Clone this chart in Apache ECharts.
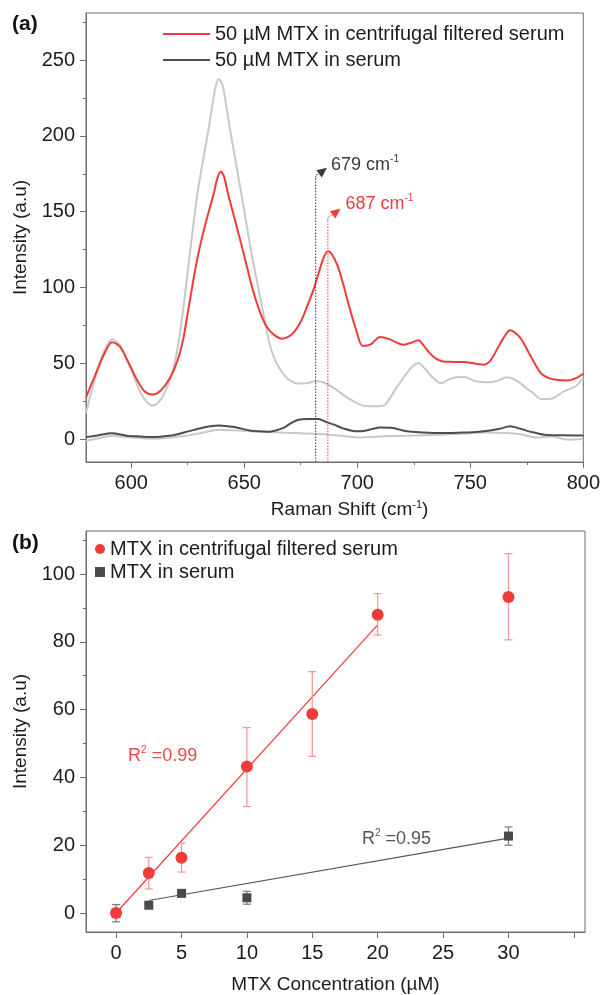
<!DOCTYPE html>
<html><head><meta charset="utf-8">
<script src="https://cdn.jsdelivr.net/npm/echarts@6/dist/echarts.min.js"></script>
<style>html,body{margin:0;padding:0;background:#fff}#c{width:603px;height:995px}</style>
</head><body><div id="c"></div><script>
// ---------- Panel (a): Raman spectra ----------
const redShift = [580, 584, 588, 591.5, 595, 599, 603, 606, 609.5, 613, 617, 620.5, 623, 625.2, 629.1, 632.5, 636.5, 638.2, 639.6, 641.1, 642.8, 646.7, 650.5, 653.5, 656.7, 660, 663.5, 666.8, 670, 672.7, 675.5, 677.8, 680.5, 682.9, 685.2, 687, 688.8, 691.4, 694, 696.4, 699.5, 702.4, 706, 710, 714.2, 717, 720.2, 723.5, 727, 729.5, 732, 735, 738, 742, 747.3, 752, 755.8, 759, 762.5, 765, 767.6, 770, 772.7, 777, 781.2, 784.5, 788, 793, 797, 800];
const redInt = [27.6, 42, 56, 64, 61, 50, 38, 31.5, 29.5, 32, 40, 52, 66, 85, 118, 140, 162, 172.5, 176.5, 173, 162, 140, 118, 100, 85, 74, 68.5, 66.3, 68, 72, 79, 87.6, 98, 109.6, 120, 124, 122, 114, 101, 87.6, 72, 61.5, 62.5, 67.4, 66, 64, 62.3, 63.5, 65.2, 61.5, 56.8, 53, 51.3, 51, 50.9, 50, 49.1, 52, 61.2, 67.5, 71.8, 70, 65.6, 54, 43.6, 40.5, 39.2, 38.8, 40.5, 43.2];

const grayUpShift = [580, 584, 588, 591.5, 595, 598, 601, 604, 607, 609.5, 613, 616, 618.5, 620.5, 622.7, 625.6, 629.3, 634.4, 637, 638.7, 640.5, 643.5, 648.7, 653.8, 658.2, 661, 664, 667.6, 670.5, 673.6, 678, 681.2, 684.6, 689.7, 694.7, 700.7, 705, 711.7, 714, 716.8, 719.5, 721.9, 724.5, 727, 730.3, 733.5, 737.1, 740.5, 743.9, 747.3, 752.4, 757.5, 762, 766, 771, 774.5, 777.8, 781.2, 786.3, 791.4, 796.4, 800];
const grayUpInt = [17.3, 40, 58, 66, 62, 52.4, 42, 31, 24.5, 22.3, 26, 35, 45.8, 60, 82, 118, 162, 206, 230, 237.5, 233, 206, 162, 118, 85, 64, 51, 42.5, 38.5, 36.8, 37, 38.2, 37.7, 33.7, 28.3, 23.2, 21.7, 22.3, 26, 32.7, 38.5, 43.6, 48, 50.2, 45.8, 40.5, 37, 39.5, 40.8, 41, 38.2, 37.5, 38.5, 40.8, 38.2, 34, 30.5, 26.5, 26.9, 31.6, 34.8, 40.3];

const serumShift = [580, 585, 591.4, 598, 604, 610, 616.8, 621, 625.3, 632, 638.8, 645.6, 652.4, 656, 660.8, 664, 667.6, 670.5, 674, 677.8, 682.9, 686, 689.7, 694, 699.8, 704, 710, 715.1, 721.9, 729, 737.1, 745, 754, 762.5, 767.6, 772, 776, 782.9, 790, 800];
const serumInt = [1.4, 2.5, 4, 2.3, 1.8, 1.4, 2.3, 3.5, 5.2, 7.8, 9.1, 8, 5.8, 5.2, 4.9, 5.8, 7.6, 10.5, 12.8, 13.3, 13.3, 11.5, 9.6, 7, 5.2, 5.8, 7.8, 7.6, 5.2, 4.5, 4.1, 4.3, 4.9, 6.7, 8.5, 7, 5.2, 3, 2.6, 2.5];

const grayLowShift = [580, 585, 591.4, 598, 610, 625, 632, 638.8, 649, 660.8, 671, 681.2, 691.4, 701.5, 711.7, 721.9, 737.1, 750, 755.8, 763, 771, 779.5, 786, 793, 800];
const grayLowInt = [-1, 0.5, 2.3, 1.5, 0.3, 2.5, 4.5, 6.3, 5.6, 4.7, 4.1, 3.6, 2.5, 1.2, 1.9, 2.3, 3, 4, 4.5, 4.2, 3.6, 1.2, 1.9, -0.3, 0.3];

const topXTicks = [600, 650, 700, 750, 800];
const topXMinor = [625, 675, 725, 775];
const topYTicks = [0, 50, 100, 150, 200, 250];
const topYMinor = [25, 75, 125, 175, 225, 275];

// peak annotations
const annotLabels = ['679', '687'];
const annotShift = [681.6, 687];
const annotLineTop = [172.5, 144.8];
const annotTipShift = [686.6, 692.6];
const annotTipInt = [179, 152];
const annotLabelShift = [688.4, 694.8];
const annotLabelInt = [180.5, 155];

// ---------- Panel (b): calibration ----------
const concFiltered = [0, 2.5, 5, 10, 15, 20, 30];
const meanFiltered = [0, 11.8, 16.3, 43.2, 58.7, 88, 93.2];
const lowFiltered  = [0, 7.1, 12.1, 31.4, 46.2, 82, 80.6];
const highFiltered = [0, 16.4, 20.6, 54.7, 71.2, 94.2, 106];

const concSerum = [0, 2.5, 5, 10, 30];
const meanSerum = [0, 2.3, 5.8, 4.5, 22.7];
const lowSerum  = [-2.6, 2.3, 5.8, 2.6, 20];
const highSerum = [2.5, 2.3, 5.8, 6.4, 25.4];

const fitFilteredX = [0, 20];
const fitFilteredY = [0, 85];
const fitSerumX = [2.5, 30];
const fitSerumY = [3.7, 22.1];

const r2Labels = ['0.99', '0.95'];
const r2X = [0.92, 18.8];
const r2Y = [46.3, 21.9];

const botXTicks = [0, 5, 10, 15, 20, 25, 30, 35];
const botXLabels = [0, 5, 10, 15, 20, 25, 30];
const botYTicks = [0, 20, 40, 60, 80, 100];
const botYMinor = [10, 30, 50, 70, 90, 110];

// ---------- styles ----------
const FONT = 'Liberation Sans, Arial, sans-serif';
const AX = '#6e6e6e';
const TXT = '#1c1c1c';
const RED = '#f03b3b';
const RED_TXT = '#f04646';
const RED_ERR = '#f39393';
const DARK = '#4e4e4e';
const LIGHT = '#c8c8c8';

const zip = (a, b) => a.map((v, i) => [v, b[i]]);

function mainAxis(gi, min, max, ticks, labels, extra) {
  return Object.assign({
    type: 'value', gridIndex: gi, min: min, max: max,
    axisLine: { show: true, onZero: false, lineStyle: { color: AX, width: 1 } },
    axisTick: { show: true, customValues: ticks, length: 6, lineStyle: { color: AX } },
    axisLabel: { customValues: labels, fontSize: 20, color: TXT, fontFamily: FONT, margin: 11 },
    splitLine: { show: false }
  }, extra);
}
function minorAxis(gi, min, max, ticks, pos) {
  return {
    type: 'value', gridIndex: gi, min: min, max: max, position: pos, offset: 0,
    axisLine: { show: false, onZero: false },
    axisTick: { show: true, customValues: ticks, length: 3, lineStyle: { color: AX } },
    axisLabel: { show: false },
    splitLine: { show: false }
  };
}
const nameRich = {
  n: { fontSize: 19, fontFamily: FONT, color: TXT, lineHeight: 22 },
  s: { fontSize: 11, fontFamily: FONT, color: TXT, verticalAlign: 'top' }
};

const TOP_YMIN = -15, TOP_YMAX = 281;

const option = {
  backgroundColor: '#ffffff',
  animation: false,
  title: [
    { text: '(a)', left: 12, top: 14, padding: 0, textStyle: { fontSize: 21, fontWeight: 'bold', color: '#111', fontFamily: FONT } },
    { text: '(b)', left: 12, top: 533, padding: 0, textStyle: { fontSize: 21, fontWeight: 'bold', color: '#111', fontFamily: FONT } }
  ],
  legend: [
    {
      orient: 'vertical', left: 163, top: 24, padding: 0, itemGap: 6,
      itemWidth: 47, itemHeight: 2, icon: 'rect',
      textStyle: { fontSize: 20, color: TXT, fontFamily: FONT },
      data: ['50 µM MTX in centrifugal filtered serum', '50 µM MTX in serum']
    },
    {
      orient: 'vertical', left: 95, top: 539, padding: 0, itemGap: 3,
      itemWidth: 10, itemHeight: 10,
      textStyle: { fontSize: 20, color: TXT, fontFamily: FONT },
      data: [{ name: 'MTX in centrifugal filtered serum', icon: 'circle' }, { name: 'MTX in serum', icon: 'rect' }]
    }
  ],
  grid: [
    { left: 86, top: 13, width: 499, height: 449, show: true, borderColor: AX, borderWidth: 1, backgroundColor: 'transparent' },
    { left: 86, top: 531, width: 499, height: 402, show: true, borderColor: AX, borderWidth: 1, backgroundColor: 'transparent' }
  ],
  xAxis: [
    mainAxis(0, 580, 800, topXTicks, topXTicks, {
      position: 'bottom', name: '{n|Raman Shift (cm}{s|-1}{n|)}', nameLocation: 'middle', nameGap: 37,
      nameTextStyle: { rich: nameRich, padding: [0, 0, 0, 30] }
    }),
    minorAxis(0, 580, 800, topXMinor, 'bottom'),
    mainAxis(1, -2.3, 35.85, botXTicks, botXLabels, {
      position: 'bottom', name: 'MTX Concentration (µM)', nameLocation: 'middle', nameGap: 43,
      nameTextStyle: { fontSize: 19, fontFamily: FONT, color: TXT }
    })
  ],
  yAxis: [
    mainAxis(0, TOP_YMIN, TOP_YMAX, topYTicks, topYTicks, {
      position: 'left', name: 'Intensity (a.u)', nameLocation: 'middle', nameGap: 53,
      nameTextStyle: { fontSize: 19, fontFamily: FONT, color: TXT }
    }),
    minorAxis(0, TOP_YMIN, TOP_YMAX, topYMinor, 'left'),
    mainAxis(1, -5.6, 112.7, botYTicks, botYTicks, {
      position: 'left', name: 'Intensity (a.u)', nameLocation: 'middle', nameGap: 53,
      nameTextStyle: { fontSize: 19, fontFamily: FONT, color: TXT }
    }),
    minorAxis(1, -5.6, 112.7, botYMinor, 'left')
  ],
  series: [
    { type: 'line', xAxisIndex: 0, yAxisIndex: 0, data: zip(grayUpShift, grayUpInt), showSymbol: false, symbol: 'none', smooth: 0.3, lineStyle: { color: LIGHT, width: 2 }, z: 1, silent: true },
    { type: 'line', xAxisIndex: 0, yAxisIndex: 0, data: zip(grayLowShift, grayLowInt), showSymbol: false, symbol: 'none', smooth: 0.3, lineStyle: { color: LIGHT, width: 2 }, z: 1, silent: true },
    { name: '50 µM MTX in serum', type: 'line', xAxisIndex: 0, yAxisIndex: 0, data: zip(serumShift, serumInt), symbol: 'none', smooth: 0.3, color: DARK, lineStyle: { color: DARK, width: 2 }, z: 2 },
    { name: '50 µM MTX in centrifugal filtered serum', type: 'line', xAxisIndex: 0, yAxisIndex: 0, data: zip(redShift, redInt), symbol: 'none', smooth: 0.3, color: RED, lineStyle: { color: RED, width: 2 }, z: 3 },
    {
      type: 'custom', xAxisIndex: 0, yAxisIndex: 0, silent: true, z: 5, clip: false,
      data: annotShift.map((s, i) => [s, annotLineTop[i], annotTipShift[i], annotTipInt[i], annotLabelShift[i], annotLabelInt[i]]),
      renderItem: function (params, api) {
        const i = params.dataIndex;
        const col = i === 0 ? '#3a3a3a' : RED;
        const base = api.coord([api.value(0), TOP_YMIN]);
        const top = api.coord([api.value(0), api.value(1)]);
        const tip = api.coord([api.value(2), api.value(3)]);
        const lab = api.coord([api.value(4), api.value(5)]);
        const ang = 38 * Math.PI / 180;
        const ux = Math.cos(ang), uy = -Math.sin(ang);
        const ah = 10, aw = 4.5;
        const bx = tip[0] - ux * ah, by = tip[1] - uy * ah;
        const p1 = [bx - uy * aw, by + ux * aw], p2 = [bx + uy * aw, by - ux * aw];
        return {
          type: 'group', children: [
            { type: 'line', shape: { x1: base[0], y1: base[1], x2: top[0], y2: top[1] }, style: { stroke: col, lineWidth: 1, lineDash: [1.5, 1.5] } },
            { type: 'bezierCurve', shape: { x1: top[0], y1: top[1], x2: bx, y2: by, cpx1: top[0], cpy1: top[1] - 5, cpx2: bx - ux * 3, cpy2: by - uy * 3 }, style: { stroke: col, lineWidth: 1, lineDash: [1.5, 1.5], fill: null } },
            { type: 'polygon', shape: { points: [tip, p1, p2] }, style: { fill: col } },
            { type: 'text', x: lab[0], y: lab[1], style: {
              text: '{n|' + annotLabels[i] + ' cm}{s|-1}', align: 'left', verticalAlign: 'middle',
              rich: { n: { fontSize: 18, fontFamily: FONT, fill: col, lineHeight: 22 }, s: { fontSize: 10, fontFamily: FONT, fill: col, verticalAlign: 'top' } }
            } }
          ]
        };
      }
    },
    // ----- panel b -----
    { type: 'line', xAxisIndex: 2, yAxisIndex: 2, data: zip(fitFilteredX, fitFilteredY), symbol: 'none', lineStyle: { color: RED, width: 1.2 }, silent: true, z: 2 },
    { type: 'line', xAxisIndex: 2, yAxisIndex: 2, data: zip(fitSerumX, fitSerumY), symbol: 'none', lineStyle: { color: '#555', width: 1.2 }, silent: true, z: 2 },
    {
      type: 'custom', xAxisIndex: 2, yAxisIndex: 2, silent: true, z: 3,
      data: concSerum.map((c, i) => [c, lowSerum[i], highSerum[i]]),
      renderItem: function (params, api) { return errBar(api, '#7a7a7a'); }
    },
    { name: 'MTX in serum', type: 'scatter', xAxisIndex: 2, yAxisIndex: 2, data: zip(concSerum, meanSerum), symbol: 'rect', symbolSize: 9, itemStyle: { color: '#4a4a4a', opacity: 1 }, z: 4 },
    {
      type: 'custom', xAxisIndex: 2, yAxisIndex: 2, silent: true, z: 5,
      data: concFiltered.map((c, i) => [c, lowFiltered[i], highFiltered[i]]),
      renderItem: function (params, api) { return errBar(api, RED_ERR); }
    },
    { name: 'MTX in centrifugal filtered serum', type: 'scatter', xAxisIndex: 2, yAxisIndex: 2, data: zip(concFiltered, meanFiltered), symbol: 'circle', symbolSize: 12, itemStyle: { color: RED, opacity: 1 }, z: 6 },
    {
      type: 'custom', xAxisIndex: 2, yAxisIndex: 2, silent: true, z: 7,
      data: r2X.map((x, i) => [x, r2Y[i]]),
      renderItem: function (params, api) {
        const i = params.dataIndex;
        const col = i === 0 ? RED_TXT : '#555';
        const p = api.coord([api.value(0), api.value(1)]);
        return { type: 'text', x: p[0], y: p[1], style: {
          text: '{n|R}{s|2}{n| =' + r2Labels[i] + '}', align: 'left', verticalAlign: 'middle',
          rich: { n: { fontSize: 18, fontFamily: FONT, fill: col, lineHeight: 22 }, s: { fontSize: 10, fontFamily: FONT, fill: col, verticalAlign: 'top' } }
        } };
      }
    }
  ]
};

function errBar(api, col) {
  const x = api.value(0);
  const lo = api.coord([x, api.value(1)]);
  const hi = api.coord([x, api.value(2)]);
  if (Math.abs(lo[1] - hi[1]) < 0.5) return null;
  const cw = 4;
  const st = { stroke: col, lineWidth: 1.2 };
  return { type: 'group', children: [
    { type: 'line', shape: { x1: lo[0], y1: lo[1], x2: hi[0], y2: hi[1] }, style: st },
    { type: 'line', shape: { x1: lo[0] - cw, y1: lo[1], x2: lo[0] + cw, y2: lo[1] }, style: st },
    { type: 'line', shape: { x1: hi[0] - cw, y1: hi[1], x2: hi[0] + cw, y2: hi[1] }, style: st }
  ] };
}

const chart = echarts.init(document.getElementById('c'), null, { renderer: 'canvas' });
chart.setOption(option);
</script></body></html>
